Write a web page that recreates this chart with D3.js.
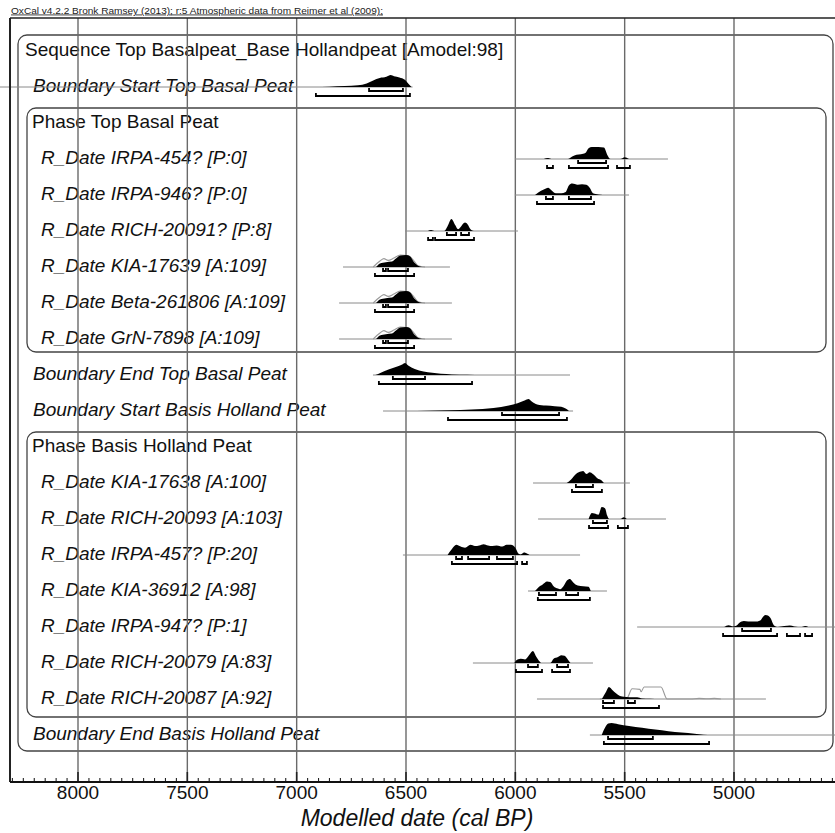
<!DOCTYPE html>
<html><head><meta charset="utf-8">
<script src="https://cdn.jsdelivr.net/npm/d3@7"></script>
<style>body{margin:0;background:#fff}svg{display:block}text{font-family:"Liberation Sans",Arial,sans-serif}</style>
</head><body><div id="chart"></div>
<script>
// ---- data ----
const headerText = "OxCal v4.2.2 Bronk Ramsey (2013); r:5 Atmospheric data from Reimer et al (2009);";
const axisTitle = "Modelled date (cal BP)";
const tickYears = [8000, 7500, 7000, 6500, 6000, 5500, 5000];
const rowLabels = [
  "Sequence Top Basalpeat_Base Hollandpeat [Amodel:98]",
  "Boundary Start Top Basal Peat",
  "Phase Top Basal Peat",
  "R_Date IRPA-454? [P:0]",
  "R_Date IRPA-946? [P:0]",
  "R_Date RICH-20091? [P:8]",
  "R_Date KIA-17639 [A:109]",
  "R_Date Beta-261806 [A:109]",
  "R_Date GrN-7898 [A:109]",
  "Boundary End Top Basal Peat",
  "Boundary Start Basis Holland Peat",
  "Phase Basis Holland Peat",
  "R_Date KIA-17638 [A:100]",
  "R_Date RICH-20093 [A:103]",
  "R_Date IRPA-457? [P:20]",
  "R_Date KIA-36912 [A:98]",
  "R_Date IRPA-947? [P:1]",
  "R_Date RICH-20079 [A:83]",
  "R_Date RICH-20087 [A:92]",
  "Boundary End Basis Holland Peat"
];
const rowKinds = ["seq","bound","phase","date","date","date","date","date","date","bound","bound","phase","date","date","date","date","date","date","date","bound"];
// thin line extent per row [from, to] (cal BP)
const rowSpan = [null,[8360,6470],null,[6002,5302],[6002,5480],[6504,5988],[6788,6299],[6806,6290],[6806,6290],[6651,5750],[6605,5736],null,[5919,5476],[5896,5311],[6514,5704],[5942,5581],[5443,4440],[6194,5645],[5901,4854],[5659,4440]];
const kiaPost = [[6637,0],[6619,0.3],[6592,0.4],[6564,0.45],[6546,0.7],[6527,0.95],[6500,1.0],[6482,0.9],[6463,0.4],[6445,0.1],[6427,0]];
const kiaPrior = [[6650,0],[6619,0.5],[6601,0.7],[6582,0.55],[6555,0.75],[6527,1.0],[6491,0.95],[6463,0.5],[6445,0.1],[6413,0]];
// posterior (modelled) densities [year, relative height]
const posterior = [
  null,
  [[6920,0],[6850,0.03],[6780,0.08],[6720,0.15],[6680,0.3],[6650,0.55],[6620,0.75],[6590,0.85],[6570,1.0],[6555,0.9],[6530,0.8],[6505,0.6],[6490,0.3],[6475,0]],
  null,
  [[5870,0],[5850,0.08],[5835,0],[5760,0],[5740,0.2],[5720,0.35],[5700,0.4],[5680,0.5],[5665,0.9],[5650,1.0],[5620,1.0],[5595,0.95],[5578,0.3],[5565,0],[5520,0],[5500,0.15],[5480,0]],
  [[5910,0],[5895,0.2],[5870,0.45],[5850,0.6],[5835,0.4],[5815,0.15],[5790,0.15],[5770,0.25],[5755,0.8],[5740,0.95],[5715,0.85],[5695,0.9],[5675,0.85],[5660,0.6],[5645,0.15],[5620,0.05],[5600,0]],
  [[6400,0],[6385,0.08],[6370,0],[6325,0],[6310,0.4],[6292,1.0],[6275,0.5],[6262,0.15],[6252,0.3],[6230,0.7],[6218,0.55],[6205,0.15],[6190,0]],
  kiaPost, kiaPost, kiaPost,
  [[6640,0],[6620,0.15],[6580,0.45],[6540,0.7],[6515,0.9],[6505,1.0],[6490,0.8],[6460,0.5],[6420,0.3],[6380,0.18],[6340,0.1],[6290,0.05],[6220,0.02],[6150,0]],
  [[6600,0],[6500,0.01],[6400,0.03],[6300,0.06],[6200,0.12],[6100,0.25],[6030,0.45],[5990,0.65],[5955,0.9],[5940,1.0],[5925,0.8],[5900,0.55],[5860,0.45],[5820,0.4],[5790,0.35],[5770,0.2],[5755,0]],
  null,
  [[5765,0],[5745,0.3],[5720,0.8],[5700,0.95],[5690,1.0],[5675,0.75],[5660,0.9],[5645,0.75],[5625,0.4],[5605,0.2],[5595,0]],
  [[5665,0],[5650,0.5],[5638,0.45],[5620,0.35],[5605,1.0],[5590,0.9],[5580,0.3],[5570,0],[5520,0],[5505,0.15],[5490,0]],
  [[6310,0],[6290,0.5],[6270,0.85],[6250,0.7],[6230,0.6],[6205,0.85],[6185,0.75],[6165,0.8],[6145,0.9],[6125,0.8],[6105,0.75],[6085,0.8],[6060,0.7],[6040,0.85],[6020,0.85],[6000,0.6],[5985,0.1],[5975,0.05],[5960,0.2],[5945,0.1],[5935,0]],
  [[5910,0],[5895,0.3],[5875,0.55],[5855,0.8],[5840,0.75],[5825,0.4],[5805,0.2],[5795,0.15],[5780,0.4],[5765,0.85],[5750,1.0],[5735,0.7],[5715,0.45],[5690,0.4],[5665,0.35],[5655,0]],
  [[5045,0],[5025,0.15],[5005,0.05],[4990,0.1],[4975,0.35],[4955,0.5],[4935,0.45],[4905,0.45],[4880,0.55],[4865,0.9],[4855,1.0],[4835,0.8],[4815,0.1],[4800,0],[4770,0.08],[4745,0.12],[4725,0.05],[4690,0],[4675,0.08],[4660,0]],
  [[6005,0],[5990,0.3],[5975,0.35],[5955,0.3],[5935,0.7],[5920,1.0],[5905,0.55],[5890,0.15],[5880,0],[5840,0],[5825,0.35],[5805,0.5],[5790,0.65],[5775,0.6],[5760,0.3],[5748,0]],
  [[5604,0],[5585,0.6],[5572,1.0],[5554,0.7],[5531,0.35],[5512,0.2],[5476,0.15],[5443,0.15],[5421,0.05],[5384,0.02],[5338,0]],
  [[5605,0],[5590,0.6],[5575,0.95],[5560,1.0],[5530,0.9],[5480,0.75],[5420,0.6],[5360,0.45],[5300,0.32],[5240,0.2],[5180,0.1],[5140,0.03],[5100,0]]
];
// unmodelled (prior) likelihoods, outline only
const prior = [
  null,null,null,null,null,null,
  kiaPrior, kiaPrior, kiaPrior,
  null,null,null,null,null,null,null,null,null,
  [[5613,0],[5567,0.15],[5499,0.1],[5489,0.1],[5466,0.85],[5430,0.8],[5425,0.6],[5411,1.0],[5334,1.0],[5306,0],[5200,0],[5160,0.05],[5120,0.02],[5090,0.05],[5060,0]],
  null
];
const range68 = [null,[[6669,6514]],null,[[5713,5585]],[[5860,5828],[5755,5654]],[[6313,6271],[6248,6212]],
  [[6605,6592],[6582,6491]],[[6605,6592],[6582,6491]],[[6605,6592],[6582,6491]],
  [[6560,6413]],[[6061,5800]],null,[[5723,5645]],[[5645,5581]],[[6271,6244],[6216,6120],[6084,6011]],
  [[5892,5814],[5768,5713]],[[4963,4831]],[[5942,5897],[5809,5759]],[[5599,5549],[5485,5453]],[[5576,5371]]];
const range95 = [null,[[6912,6482]],null,[[5855,5828],[5755,5576],[5535,5476]],[[5901,5640]],[[6399,6377],[6367,6189]],
  [[6642,6463]],[[6642,6463]],[[6642,6463]],
  [[6624,6198]],[[6308,5764]],null,[[5741,5604]],[[5663,5576],[5531,5485]],[[6290,5992],[5969,5947]],
  [[5897,5659]],[[5050,4803],[4758,4698],[4675,4643]],[[5997,5878],[5832,5750]],[[5599,5343]],[[5595,5114]]];

// ---- drawing ----
const W = 835, H = 833;
const svg = d3.select("#chart").append("svg").attr("width", W).attr("height", H);
const x = d3.scaleLinear().domain([8000, 5000]).range([78, 734]);
const y = d3.scalePoint().domain(d3.range(rowLabels.length)).range([56, 740]);
const hScale = d3.scaleLinear().domain([0, 1]).range([0, 12]);
const frameTop = 18, axisY = 782, frameLeft = 10;

// header
svg.append("text").attr("x", 11).attr("y", 13.5).attr("font-size", 8.6)
  .attr("textLength", 372).attr("lengthAdjust", "spacingAndGlyphs")
  .attr("text-decoration", "underline").attr("fill", "#222").text(headerText);

// rounded group boxes
const boxes = [
  {x0: 18, x1: 833, r0: 0, r1: 19, pad0: -21, pad1: 11},
  {x0: 27, x1: 826, r0: 2, r1: 8, pad0: -20, pad1: 8},
  {x0: 27, x1: 826, r0: 11, r1: 18, pad0: -20, pad1: 13}
];
boxes.forEach(b => {
  const top = y(b.r0) + b.pad0, bot = y(b.r1) + b.pad1;
  svg.append("rect").attr("x", b.x0).attr("y", top).attr("width", b.x1 - b.x0).attr("height", bot - top)
    .attr("rx", 9).attr("fill", "none").attr("stroke", "#444").attr("stroke-width", 1.3);
});

// labels
const labelX = {seq: 25, bound: 33, phase: 32, date: 41};
svg.append("g").selectAll("text").data(rowLabels).join("text")
  .attr("x", (d, i) => labelX[rowKinds[i]])
  .attr("y", (d, i) => y(i))
  .attr("font-size", 19)
  .attr("font-style", (d, i) => (rowKinds[i] === "bound" || rowKinds[i] === "date") ? "italic" : "normal")
  .attr("fill", "#111")
  .text(d => d);

// vertical grid
svg.append("g").selectAll("line").data(tickYears).join("line")
  .attr("x1", d => x(d)).attr("x2", d => x(d))
  .attr("y1", frameTop).attr("y2", axisY)
  .attr("stroke", "#6a6a6a").attr("stroke-width", 1.4);

// row baselines and distributions
const rows = svg.append("g");
const area = d3.area().x(d => x(d[0])).y1(d => -hScale(d[1])).y0(0).curve(d3.curveMonotoneX);
const lineP = d3.line().x(d => x(d[0])).y(d => -hScale(d[1])).curve(d3.curveMonotoneX);
rowLabels.forEach((lab, i) => {
  if (!rowSpan[i]) return;
  const by = y(i) - 5;
  const g = rows.append("g").attr("transform", `translate(0,${by})`);
  g.append("line").attr("x1", x(rowSpan[i][0])).attr("x2", x(rowSpan[i][1]))
    .attr("y1", 0).attr("y2", 0).attr("stroke", "#8a8a8a").attr("stroke-width", 1);
  if (prior[i]) g.append("path").attr("d", lineP(prior[i])).attr("fill", "none")
    .attr("stroke", "#999").attr("stroke-width", 1.1);
  if (posterior[i]) g.append("path").attr("d", area(posterior[i])).attr("fill", "#000");
  const bracket = (r, dy) => `M${x(r[0])},${dy - 3}V${dy}H${x(r[1])}V${dy - 3}`;
  (range68[i] || []).forEach(r => g.append("path").attr("d", bracket(r, 4))
    .attr("fill", "none").attr("stroke", "#000").attr("stroke-width", 1.8));
  (range95[i] || []).forEach(r => g.append("path").attr("d", bracket(r, 9))
    .attr("fill", "none").attr("stroke", "#000").attr("stroke-width", 1.8));
});

// frame
svg.append("line").attr("x1", frameLeft).attr("x2", W).attr("y1", frameTop).attr("y2", frameTop)
  .attr("stroke", "#222").attr("stroke-width", 1.6);
svg.append("line").attr("x1", frameLeft).attr("x2", frameLeft).attr("y1", frameTop).attr("y2", axisY)
  .attr("stroke", "#222").attr("stroke-width", 2);

// axis
const axisG = svg.append("g").attr("transform", `translate(0,${axisY})`);
const minorTicks = d3.range(8300, 4500, -50);
axisG.selectAll("line.minor").data(minorTicks).join("line").attr("class", "minor")
  .attr("x1", d => x(d)).attr("x2", d => x(d)).attr("y1", 0)
  .attr("y2", d => d % 500 === 0 ? -10 : -4)
  .attr("stroke", "#222").attr("stroke-width", d => d % 500 === 0 ? 1.6 : 1.1);
axisG.append("line").attr("x1", frameLeft).attr("x2", W).attr("y1", 0).attr("y2", 0)
  .attr("stroke", "#111").attr("stroke-width", 2.2);
axisG.selectAll("text").data(tickYears).join("text")
  .attr("x", d => x(d)).attr("y", 17).attr("text-anchor", "middle")
  .attr("font-size", 19).attr("fill", "#111").text(d => d);
svg.append("text").attr("x", 417).attr("y", 826).attr("text-anchor", "middle")
  .attr("font-size", 23).attr("font-style", "italic").attr("fill", "#111").text(axisTitle);
</script></body></html>
